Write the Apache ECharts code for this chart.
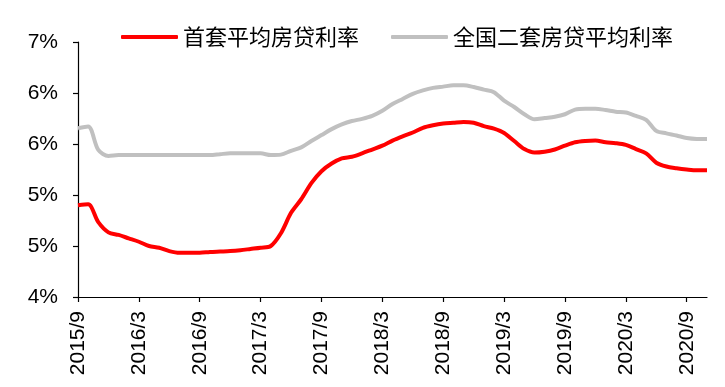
<!DOCTYPE html>
<html>
<head>
<meta charset="utf-8">
<script src="https://cdn.jsdelivr.net/npm/echarts@6/dist/echarts.min.js"></script>
<style>html,body{margin:0;padding:0;background:#fff;}#c{width:725px;height:387px;}</style>
</head>
<body>
<div id="c"></div>
<script>
var months = ['2015/9','2015/10','2015/11','2015/12',
'2016/1','2016/2','2016/3','2016/4','2016/5','2016/6','2016/7','2016/8','2016/9','2016/10','2016/11','2016/12',
'2017/1','2017/2','2017/3','2017/4','2017/5','2017/6','2017/7','2017/8','2017/9','2017/10','2017/11','2017/12',
'2018/1','2018/2','2018/3','2018/4','2018/5','2018/6','2018/7','2018/8','2018/9','2018/10','2018/11','2018/12',
'2019/1','2019/2','2019/3','2019/4','2019/5','2019/6','2019/7','2019/8','2019/9','2019/10','2019/11','2019/12',
'2020/1','2020/2','2020/3','2020/4','2020/5','2020/6','2020/7','2020/8','2020/9','2020/10','2020/11'];

var firstHomeRate = [5.08,5.09,4.88,4.76,4.73,4.69,4.65,4.60,4.58,4.54,4.52,4.52,4.52,4.53,4.535,4.54,
4.55,4.565,4.58,4.60,4.75,4.99,5.15,5.34,5.48,5.57,5.63,5.65,
5.69,5.735,5.78,5.84,5.89,5.935,5.99,6.02,6.04,6.05,6.06,6.05,
6.01,5.98,5.93,5.835,5.74,5.70,5.71,5.735,5.78,5.82,5.835,5.84,
5.82,5.81,5.79,5.74,5.69,5.58,5.535,5.515,5.50,5.49,5.49];

var secondHomeRate = [5.985,6.005,5.73,5.66,5.67,5.67,5.67,5.67,5.67,5.67,5.67,5.67,5.67,5.67,5.68,5.69,
5.69,5.69,5.69,5.67,5.675,5.72,5.76,5.835,5.905,5.975,6.03,6.07,
6.095,6.13,6.19,6.27,6.33,6.39,6.43,6.46,6.475,6.49,6.49,6.47,
6.44,6.41,6.31,6.235,6.15,6.09,6.105,6.12,6.15,6.205,6.215,6.215,
6.20,6.18,6.17,6.13,6.085,5.955,5.925,5.90,5.87,5.86,5.86];

var seriesNames = ['首套平均房贷利率','全国二套房贷平均利率'];
var yTickLabels = ['4%','5%','5%','6%','6%','7%'];

var chart = echarts.init(document.getElementById('c'), null, {renderer:'canvas'});
var axisFont = 'Liberation Sans, Arial, sans-serif';
chart.setOption({
  animation: false,
  backgroundColor: '#fff',
  legend: {
    left: 116, top: 21,
    itemWidth: 57, itemHeight: 4, itemGap: 32,
    icon: 'roundRect',
    textStyle: {fontSize: 22, color: '#000', fontFamily: 'Noto Sans CJK SC'},
    data: seriesNames
  },
  grid: {left: 78, right: 18, top: 42, bottom: 90, containLabel: false},
  xAxis: {
    type: 'category',
    data: months,
    boundaryGap: false,
    axisLine: {lineStyle: {color: '#000', width: 1.2}},
    axisTick: {interval: 5, length: 5, lineStyle: {color: '#000', width: 1.2}},
    axisLabel: {interval: 5, rotate: 90, fontSize: 21, color: '#000', fontFamily: axisFont, margin: 14},
    splitLine: {show: false}
  },
  yAxis: [
    {type: 'value', min: 4, max: 7, show: false, splitLine: {show: false}},
    {type: 'value', min: 0, max: 5, interval: 1, position: 'left',
     axisLine: {show: true, lineStyle: {color: '#000', width: 1.2}},
     axisTick: {show: true, length: 5, lineStyle: {color: '#000', width: 1.2}},
     axisLabel: {fontSize: 21, color: '#000', fontFamily: axisFont, margin: 20,
       formatter: function (v, i) { return yTickLabels[Math.round(v)]; }},
     splitLine: {show: false}}
  ],
  series: [
    {name: seriesNames[0], type: 'line', yAxisIndex: 0, data: firstHomeRate, smooth: 0.3,
     showSymbol: false, lineStyle: {color: '#f00', width: 4}, itemStyle: {color: '#f00'}},
    {name: seriesNames[1], type: 'line', yAxisIndex: 0, data: secondHomeRate, smooth: 0.3,
     showSymbol: false, lineStyle: {color: '#c0c0c0', width: 4}, itemStyle: {color: '#c0c0c0'}, z: 1}
  ]
});
</script>
</body>
</html>
